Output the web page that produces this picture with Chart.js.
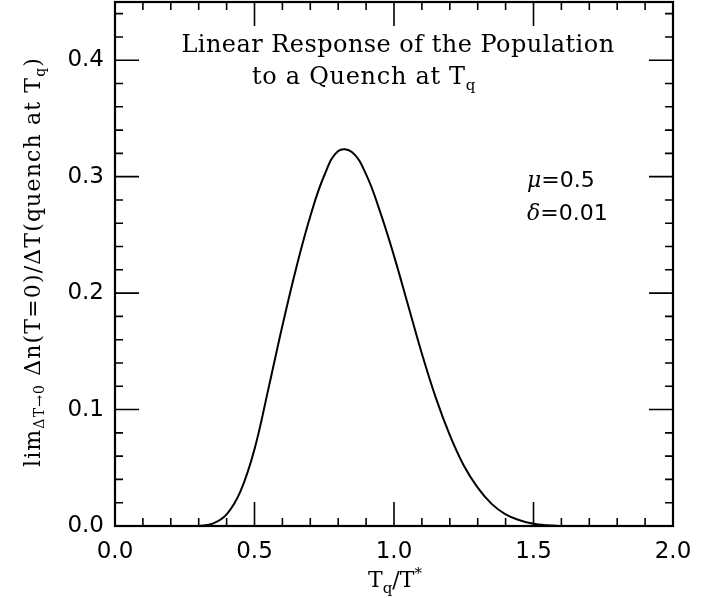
<!DOCTYPE html>
<html>
<head>
<meta charset="utf-8">
<script src="https://cdn.jsdelivr.net/npm/chart.js@4.4.1/dist/chart.umd.min.js"></script>
<style>
  html, body { margin: 0; padding: 0; background: #fff; }
  #wrap { width: 712px; height: 598px; position: relative; }
</style>
</head>
<body>
<div id="wrap"><canvas id="c" width="712" height="598"></canvas></div>
<script>
// Data
const tqOverTstar = [0.30, 0.35, 0.40, 0.45, 0.50, 0.55, 0.60, 0.65, 0.70, 0.75, 0.80, 0.85, 0.90, 0.95, 1.00, 1.05, 1.10, 1.15, 1.20, 1.25, 1.30, 1.35, 1.40, 1.45, 1.50, 1.55, 1.60];
const response    = [0.000, 0.002, 0.010, 0.030, 0.066, 0.118, 0.172, 0.222, 0.266, 0.301, 0.322, 0.321, 0.302, 0.270, 0.232, 0.190, 0.148, 0.110, 0.078, 0.052, 0.033, 0.019, 0.010, 0.005, 0.002, 0.0007, 0.000];
const xTicks = [0.0, 0.5, 1.0, 1.5, 2.0];
const yTicks = [0.0, 0.1, 0.2, 0.3, 0.4];
const xMinorStep = 0.1;
const yMinorStep = 0.02;
const titleLines = ["Linear Response of the Population", "to a Quench at T"];
const paramLabels = [["\u03bc", "=0.5"], ["\u03b4", "=0.01"]];

const points = tqOverTstar.map((x, i) => ({ x: x, y: response[i] }));

const SERIF = '"DejaVu Serif", "Liberation Serif", serif';
const SANS = '"DejaVu Sans", "Liberation Sans", sans-serif';

function drawParts(ctx, parts, x, y) {
  let cx = x;
  for (const p of parts) {
    ctx.font = p[1];
    ctx.fillText(p[0], cx, y + (p[2] || 0));
    cx += ctx.measureText(p[0]).width;
  }
  return cx - x;
}
function partsWidth(ctx, parts) {
  let w = 0;
  for (const p of parts) { ctx.font = p[1]; w += ctx.measureText(p[0]).width; }
  return w;
}
function fitSpacing(ctx, parts, target) {
  ctx.letterSpacing = '0px';
  const w = partsWidth(ctx, parts);
  const n = parts.reduce((a, p) => a + p[0].length, 0);
  const sp = Math.max(0, (target - w) / n);
  ctx.letterSpacing = sp.toFixed(2) + 'px';
  return partsWidth(ctx, parts);
}

const framePlugin = {
  id: 'frame',
  afterDraw(chart) {
    const ctx = chart.ctx;
    const xs = chart.scales.x, ys = chart.scales.y;
    const L = xs.left, R = xs.right, T = ys.top, B = ys.bottom;
    ctx.save();
    ctx.strokeStyle = '#000';
    ctx.lineWidth = 2.2;
    ctx.strokeRect(L, T, R - L, B - T);
    ctx.lineWidth = 1.6;
    ctx.beginPath();
    const majorLen = 24, minorLen = 8;
    for (let v = 0; v <= 2.0001; v += xMinorStep) {
      const isMajor = xTicks.some(t => Math.abs(t - v) < 1e-6);
      const len = isMajor ? majorLen : minorLen;
      const px = xs.getPixelForValue(v);
      ctx.moveTo(px, B); ctx.lineTo(px, B - len);
      ctx.moveTo(px, T); ctx.lineTo(px, T + len);
    }
    for (let v = 0; v <= 0.45001; v += yMinorStep) {
      const isMajor = yTicks.some(t => Math.abs(t - v) < 1e-6);
      const len = isMajor ? majorLen : minorLen;
      const py = ys.getPixelForValue(v);
      ctx.moveTo(L, py); ctx.lineTo(L + len, py);
      ctx.moveTo(R, py); ctx.lineTo(R - len, py);
    }
    ctx.stroke();

    ctx.fillStyle = '#000';
    ctx.textBaseline = 'alphabetic';
    ctx.textAlign = 'left';
    // Title lines
    const tf = '24px ' + SERIF;
    const sf = '15px ' + SERIF;
    const l1 = [[titleLines[0], tf, 0]];
    const w1 = fitSpacing(ctx, l1, 433);
    drawParts(ctx, l1, 398 - w1 / 2, 52);
    const l2 = [[titleLines[1], tf, 0], ["q", sf, 6]];
    fitSpacing(ctx, l2, 224);
    drawParts(ctx, l2, 252, 84);
    ctx.letterSpacing = '0px';

    // Parameters
    const pf = '22px ' + SANS;
    const gf = 'italic 22px ' + SERIF;
    drawParts(ctx, [[paramLabels[0][0], gf, 0], [paramLabels[0][1], pf, 0]], 527, 187);
    drawParts(ctx, [[paramLabels[1][0], gf, 0], [paramLabels[1][1], pf, 0]], 527, 220);

    // X axis title: Tq/T*
    const xf = '22px ' + SERIF;
    const xsf = '15px ' + SERIF;
    const xparts = [["T", xf, 0], ["q", xsf, 6], ["/T", xf, 0], ["*", xsf, -9]];
    const xw = partsWidth(ctx, xparts);
    drawParts(ctx, xparts, 395 - xw / 2, 587);

    // Y axis title (rotated)
    const yf = '22px ' + SERIF;
    const ysf = '14px ' + SERIF;
    const yparts = [["lim", yf, 0], ["\u0394T\u21920", ysf, 4], [" \u0394n(T=0)/\u0394T(quench at T", yf, 0], ["q", ysf, 5], [")", yf, 0]];
    const yw = fitSpacing(ctx, yparts, 410);
    ctx.translate(40, 262);
    ctx.rotate(-Math.PI / 2);
    drawParts(ctx, yparts, -yw / 2, 0);
    ctx.letterSpacing = '0px';
    ctx.restore();
  }
};

new Chart(document.getElementById('c'), {
  type: 'line',
  data: {
    datasets: [{
      data: points,
      borderColor: '#000',
      borderWidth: 2,
      pointRadius: 0,
      fill: false,
      tension: 0.4
    }]
  },
  options: {
    responsive: false,
    animation: false,
    devicePixelRatio: 1,
    layout: { padding: { left: 0, right: 39, top: 2, bottom: 0 } },
    plugins: { legend: { display: false }, tooltip: { enabled: false }, title: { display: false } },
    scales: {
      x: {
        type: 'linear', min: 0, max: 2,
        grid: { display: false, drawTicks: false },
        border: { display: false },
        afterBuildTicks: s => { s.ticks = xTicks.map(v => ({ value: v })); },
        afterFit: s => { s.height = 598 - 526; s.paddingLeft = 0; s.paddingRight = 0; },
        ticks: { color: '#000', font: { family: SANS, size: 23 }, padding: 12, maxRotation: 0,
                 autoSkip: false, callback: v => Number(v).toFixed(1) }
      },
      y: {
        type: 'linear', min: 0, max: 0.45,
        grid: { display: false, drawTicks: false },
        border: { display: false },
        afterBuildTicks: s => { s.ticks = yTicks.map(v => ({ value: v })); },
        afterFit: s => { s.width = 115; s.paddingTop = 0; s.paddingBottom = 0; },
        ticks: { color: '#000', font: { family: SANS, size: 23 }, padding: 11,
                 autoSkip: false, callback: v => Number(v).toFixed(1) }
      }
    }
  },
  plugins: [framePlugin]
});
</script>
</body>
</html>
